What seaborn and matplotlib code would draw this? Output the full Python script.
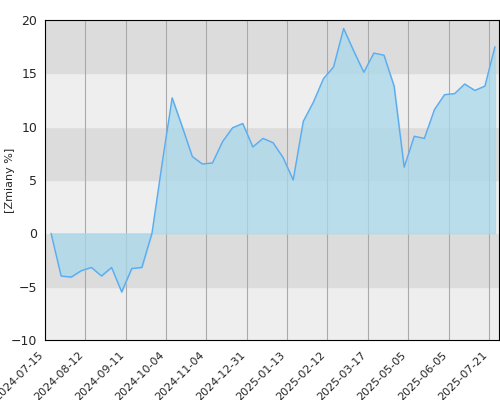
import matplotlib
matplotlib.use("Agg")
import matplotlib.pyplot as plt
import seaborn as sns
import numpy as np

values = [0, -4, -4.1, -3.5, -3.2, -4, -3.2, -5.5, -3.3, -3.2, 0, 6.5, 12.7, 10, 7.2,
          6.5, 6.6, 8.6, 9.9, 10.3, 8.1, 8.9, 8.5, 7.1, 5, 10.5, 12.3, 14.5, 15.6, 19.2,
          17.1, 15.1, 16.9, 16.7, 13.8, 6.2, 9.1, 8.9, 11.6, 13, 13.1, 14, 13.4, 13.8, 17.5]
tick_labels = ["2024-07-15", "2024-08-12", "2024-09-11", "2024-10-04", "2024-11-04",
               "2024-12-31", "2025-01-13", "2025-02-12", "2025-03-17", "2025-05-05",
               "2025-06-05", "2025-07-21"]

sns.set_style("white")
fig = plt.figure(figsize=(5, 4), dpi=100)
ax = fig.add_axes([0.09, 0.15, 0.908, 0.8])

# alternating bands
for i, lo in enumerate(range(-10, 20, 5)):
    ax.axhspan(lo, lo + 5, color="#dcdcdc" if i % 2 else "#eeeeee", zorder=0)

x = np.arange(len(values))
ax.fill_between(x, values, 0, color="#a8d8ea", alpha=0.75, zorder=2)
sns.lineplot(x=x, y=values, ax=ax, color="#5aabf0", linewidth=1, zorder=3)

ticks = np.arange(len(tick_labels)) * 4 - 0.6
ax.set_xticks(ticks)
ax.set_xticklabels(tick_labels, rotation=45, ha="right", fontsize=8)
for t in ticks:
    ax.axvline(t, color="#aaaaaa", linewidth=0.8, zorder=1)
ax.set_xlim(-0.6, 44.4)
ax.set_ylim(-10, 20)
ax.set_yticks(range(-10, 21, 5))
ax.tick_params(axis="y", labelsize=9, pad=2)
ax.set_ylabel("[Zmiany %]", fontsize=8)
ax.yaxis.set_label_coords(-0.065, 0.5)
for s in ax.spines.values():
    s.set_color("black")
    s.set_linewidth(0.8)

fig.savefig("out.png")
